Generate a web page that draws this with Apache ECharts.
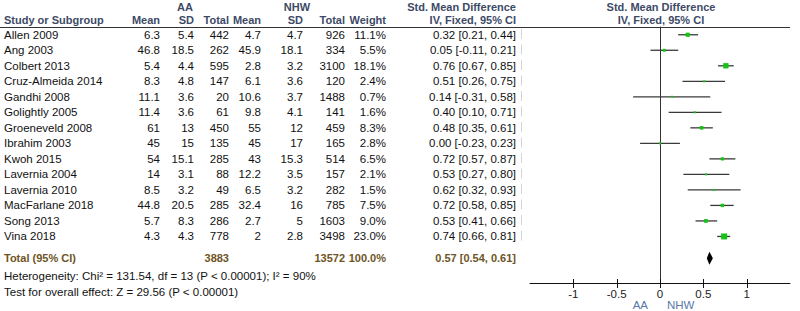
<!DOCTYPE html>
<html>
<head>
<meta charset="utf-8">
<script src="https://cdn.jsdelivr.net/npm/echarts@6/dist/echarts.min.js"></script>
<style>
html, body { margin: 0; padding: 0; background: #fff; }
#main { width: 800px; height: 311px; }
</style>
</head>
<body>
<div id="main"></div>
<script>
// studies + values
const studies = ['Allen 2009', 'Ang 2003', 'Colbert 2013', 'Cruz-Almeida 2014', 'Gandhi 2008',
  'Golightly 2005', 'Groeneveld 2008', 'Ibrahim 2003', 'Kwoh 2015', 'Lavernia 2004',
  'Lavernia 2010', 'MacFarlane 2018', 'Song 2013', 'Vina 2018'];
const aaMean = [6.3, 46.8, 5.4, 8.3, 11.1, 11.4, 61, 45, 54, 14, 8.5, 44.8, 5.7, 4.3];
const aaSD = [5.4, 18.5, 4.4, 4.8, 3.6, 3.6, 13, 15, 15.1, 3.1, 3.2, 20.5, 8.3, 4.3];
const aaTotal = [442, 262, 595, 147, 20, 61, 450, 135, 285, 88, 49, 285, 286, 778];
const nhwMean = [4.7, 45.9, 2.8, 6.1, 10.6, 9.8, 55, 45, 43, 12.2, 6.5, 32.4, 2.7, 2];
const nhwSD = [4.7, 18.1, 3.2, 3.6, 3.7, 4.1, 12, 17, 15.3, 3.5, 3.2, 16, 5, 2.8];
const nhwTotal = [926, 334, 3100, 120, 1488, 141, 459, 165, 514, 157, 282, 785, 1603, 3498];
const weight = [11.1, 5.5, 18.1, 2.4, 0.7, 1.6, 8.3, 2.8, 6.5, 2.1, 1.5, 7.5, 9.0, 23.0];
const smd = [0.32, 0.05, 0.76, 0.51, 0.14, 0.40, 0.48, 0.00, 0.72, 0.53, 0.62, 0.72, 0.53, 0.74];
const ciLow = [0.21, -0.11, 0.67, 0.26, -0.31, 0.10, 0.35, -0.23, 0.57, 0.27, 0.32, 0.58, 0.41, 0.66];
const ciHigh = [0.44, 0.21, 0.85, 0.75, 0.58, 0.71, 0.61, 0.23, 0.87, 0.80, 0.93, 0.85, 0.66, 0.81];

// pooled result
const totalLabel = 'Total (95% CI)';
const totalAA = 3883;
const totalNHW = 13572;
const totalWeight = 100.0;
const pooled = [0.57, 0.54, 0.61];

// axis ticks
const tickValues = [-1, -0.5, 0, 0.5, 1];

const FONT = '11.5px Arial, "Liberation Sans", sans-serif';
const BOLD = 'bold 11px Arial, "Liberation Sans", sans-serif';
const headColor = '#3d4a66';
const totalColor = '#6e5424';
const textColor = '#111';
const totalRow = 14.4;
const yMax = 16;

const fmtCI = (m, l, h) => m.toFixed(2) + ' [' + l.toFixed(2) + ', ' + h.toFixed(2) + ']';

// table columns: anchor x (px in the table grid), alignment, text getter
const cols = [
  {x: 4, align: 'left', get: i => studies[i]},
  {x: 160, align: 'right', get: i => String(aaMean[i])},
  {x: 194, align: 'right', get: i => String(aaSD[i])},
  {x: 229, align: 'right', get: i => String(aaTotal[i])},
  {x: 261, align: 'right', get: i => String(nhwMean[i])},
  {x: 303, align: 'right', get: i => String(nhwSD[i])},
  {x: 345, align: 'right', get: i => String(nhwTotal[i])},
  {x: 386, align: 'right', get: i => weight[i].toFixed(1) + '%'},
  {x: 516, align: 'right', get: i => fmtCI(smd[i], ciLow[i], ciHigh[i])}
];

function txt(x, y, text, align, font, color) {
  return {
    type: 'text', x: x, y: y,
    style: {text: text, font: font || FONT, fill: color || textColor,
      align: align || 'left', textAlign: align || 'left',
      verticalAlign: 'middle', textVerticalAlign: 'middle'}
  };
}

const chart = echarts.init(document.getElementById('main'), null, {renderer: 'svg'});

const option = {
  backgroundColor: '#fff',
  animation: false,
  grid: [
    {left: 530, right: 10, top: 27, bottom: 28},   // plot
    {left: 0, right: 0, top: 27, bottom: 28}       // table
  ],
  xAxis: [
    {
      gridIndex: 0, type: 'value', min: -1.5, max: 1.5, interval: 0.5, position: 'bottom',
      axisLine: {show: true, onZero: false, lineStyle: {color: '#111', width: 1}},
      axisTick: {show: false},
      axisLabel: {customValues: tickValues, color: '#222', fontSize: 11.5, fontFamily: 'Arial', margin: 5,
        formatter: v => String(v)},
      splitLine: {show: false}
    },
    {gridIndex: 1, type: 'value', min: 0, max: 800, show: false}
  ],
  yAxis: [
    {
      gridIndex: 0, type: 'value', min: -0.5, max: yMax, inverse: true,
      axisLine: {show: true, onZero: true, lineStyle: {color: '#333'}},
      axisTick: {show: false}, axisLabel: {show: false}, splitLine: {show: false}
    },
    {gridIndex: 1, type: 'value', min: -0.5, max: yMax, inverse: true, show: false}
  ],
  graphic: [
    // header
    txt(185, 7, 'AA', 'center', BOLD, headColor),
    txt(297, 7, 'NHW', 'center', BOLD, headColor),
    txt(516, 7, 'Std. Mean Difference', 'right', BOLD, headColor),
    txt(661, 7, 'Std. Mean Difference', 'center', BOLD, headColor),
    txt(4, 20, 'Study or Subgroup', 'left', BOLD, headColor),
    txt(160, 20, 'Mean', 'right', BOLD, headColor),
    txt(194, 20, 'SD', 'right', BOLD, headColor),
    txt(229, 20, 'Total', 'right', BOLD, headColor),
    txt(261, 20, 'Mean', 'right', BOLD, headColor),
    txt(303, 20, 'SD', 'right', BOLD, headColor),
    txt(345, 20, 'Total', 'right', BOLD, headColor),
    txt(386, 20, 'Weight', 'right', BOLD, headColor),
    txt(516, 20, 'IV, Fixed, 95% CI', 'right', BOLD, headColor),
    txt(661, 20, 'IV, Fixed, 95% CI', 'center', BOLD, headColor),
    {type: 'line', shape: {x1: 0, y1: 27.5, x2: 790, y2: 27.5}, style: {stroke: '#333', lineWidth: 1}},
    {type: 'line', shape: {x1: 521.5, y1: 29, x2: 521.5, y2: 245},
      style: {stroke: '#d4d4d4', lineWidth: 1, lineDash: [10, 5.5]}},
    // footer
    txt(4, 276, 'Heterogeneity: Chi\u00b2 = 131.54, df = 13 (P < 0.00001); I\u00b2 = 90%', 'left'),
    txt(4, 292, 'Test for overall effect: Z = 29.56 (P < 0.00001)', 'left'),
    txt(648, 305, 'AA', 'right', FONT, '#5a78a8'),
    txt(667, 305, 'NHW', 'left', FONT, '#5a78a8')
  ],
  series: [
    {
      // table body
      type: 'custom', xAxisIndex: 1, yAxisIndex: 1, clip: false, silent: true,
      data: studies.map((s, i) => [0, i]),
      renderItem: (params, api) => {
        const i = params.dataIndex;
        const y = api.coord([0, api.value(1)])[1];
        return {
          type: 'group',
          children: cols.map(c => txt(api.coord([c.x, i])[0], y, c.get(i), c.align))
        };
      }
    },
    {
      // total row
      type: 'custom', xAxisIndex: 1, yAxisIndex: 1, clip: false, silent: true,
      data: [[0, totalRow]],
      renderItem: (params, api) => {
        const y = api.coord([0, api.value(1)])[1];
        const X = v => api.coord([v, 0])[0];
        return {
          type: 'group',
          children: [
            txt(X(4), y, totalLabel, 'left', BOLD, totalColor),
            txt(X(229), y, String(totalAA), 'right', BOLD, totalColor),
            txt(X(345), y, String(totalNHW), 'right', BOLD, totalColor),
            txt(X(386), y, totalWeight.toFixed(1) + '%', 'right', BOLD, totalColor),
            txt(X(516), y, fmtCI(pooled[0], pooled[1], pooled[2]), 'right', BOLD, totalColor)
          ]
        };
      }
    },
    {
      // axis baseline + tick marks crossing it
      type: 'custom', xAxisIndex: 0, yAxisIndex: 0, clip: false, silent: true,
      data: tickValues.map(v => [v, yMax]),
      renderItem: (params, api) => {
        const p = api.coord([api.value(0), api.value(1)]);
        const children = [
          {type: 'line', shape: {x1: Math.round(p[0]) + 0.5, y1: p[1] - 4, x2: Math.round(p[0]) + 0.5, y2: p[1] + 5},
            style: {stroke: '#111', lineWidth: 1}}
        ];
        if (params.dataIndex === 0) {
          const a = api.coord([-1.5, yMax]);
          const b = api.coord([1.5, yMax]);
          children.push({type: 'line', shape: {x1: a[0], y1: Math.round(a[1]) + 0.5, x2: b[0], y2: Math.round(b[1]) + 0.5},
            style: {stroke: '#111', lineWidth: 1}});
        }
        return {type: 'group', children: children};
      }
    },
    {
      // study CIs and weighted squares
      type: 'custom', xAxisIndex: 0, yAxisIndex: 0, clip: false, silent: true,
      data: studies.map((s, i) => [smd[i], i, ciLow[i], ciHigh[i], weight[i]]),
      renderItem: (params, api) => {
        const c = api.coord([api.value(0), api.value(1)]);
        const l = api.coord([api.value(2), api.value(1)]);
        const h = api.coord([api.value(3), api.value(1)]);
        const s = Math.max(2, Math.sqrt(api.value(4)) * 1.25);
        return {
          type: 'group',
          children: [
            {type: 'line', shape: {x1: l[0], y1: c[1], x2: h[0], y2: c[1]},
              style: {stroke: '#3a3a3a', lineWidth: 1.3}},
            {type: 'rect', shape: {x: c[0] - s / 2, y: c[1] - s / 2, width: s, height: s},
              style: {fill: '#14c414'}}
          ]
        };
      }
    },
    {
      // pooled diamond
      type: 'custom', xAxisIndex: 0, yAxisIndex: 0, clip: false, silent: true,
      data: [[pooled[0], totalRow, pooled[1], pooled[2]]],
      renderItem: (params, api) => {
        const c = api.coord([api.value(0), api.value(1)]);
        const l = api.coord([api.value(2), api.value(1)]);
        const h = api.coord([api.value(3), api.value(1)]);
        return {
          type: 'polygon',
          shape: {points: [[l[0], c[1]], [c[0], c[1] - 6.5], [h[0], c[1]], [c[0], c[1] + 6.5]]},
          style: {fill: '#000'}
        };
      }
    }
  ]
};

chart.setOption(option);
</script>
</body>
</html>
